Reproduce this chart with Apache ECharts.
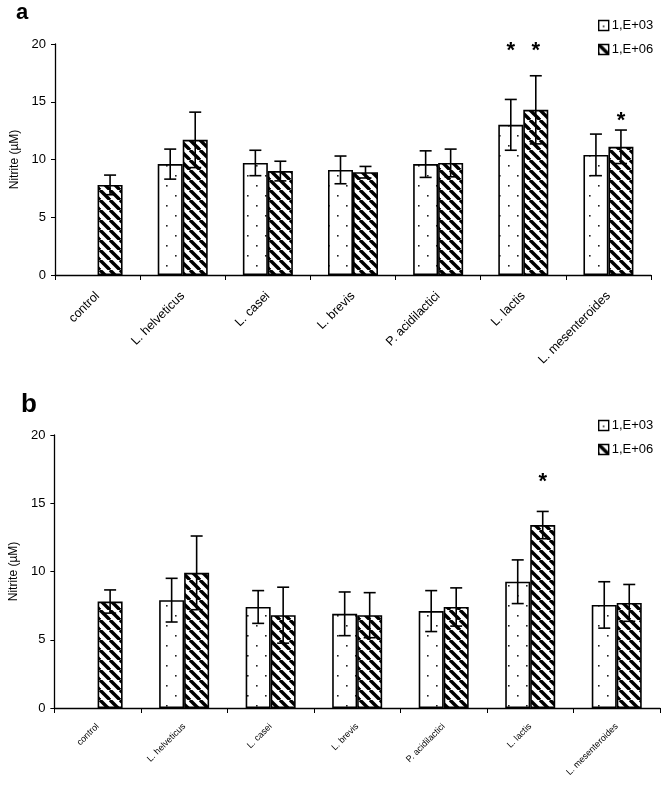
<!DOCTYPE html>
<html><head><meta charset="utf-8">
<script src="https://cdn.jsdelivr.net/npm/echarts@6/dist/echarts.min.js"></script>
<style>html,body{margin:0;padding:0;background:#fff}#c{width:661px;height:785px}</style>
</head><body><div id="c"></div>
<script>
const categories = ['control','L. helveticus','L. casei','L. brevis','P. acidilactici','L. lactis','L. mesenteroides'];
const seriesNames = ['1,E+03','1,E+06'];
// panel a
const aE3 = [null, 9.6, 9.7, 9.1, 9.6, 13.0, 10.4];
const aE3err = [null, 1.3, 1.1, 1.2, 1.15, 2.2, 1.8];
const aE6 = [7.8, 11.7, 9.0, 8.9, 9.7, 14.3, 11.1];
const aE6err = [0.85, 2.4, 0.85, 0.5, 1.2, 2.95, 1.45];
const aStars = [[5, 0, 19.8], [5, 1, 19.8], [6, 1, 13.8]];
// panel b
const bE3 = [null, 7.9, 7.4, 6.9, 7.1, 9.25, 7.55];
const bE3err = [null, 1.6, 1.2, 1.6, 1.5, 1.6, 1.7];
const bE6 = [7.8, 9.9, 6.8, 6.8, 7.4, 13.4, 7.7];
const bE6err = [0.85, 2.7, 2.05, 1.65, 1.4, 1.0, 1.35];
const bStars = [[5, 1, 16.9]];
const yMin = 0, yMax = 20, yInterval = 5;

const FONT = 'Liberation Sans, Arial, sans-serif';
const BW = 25;

function hatchPattern() {
  const c = document.createElement('canvas'); c.width = c.height = 10;
  const g = c.getContext('2d');
  g.fillStyle = '#fff'; g.fillRect(0, 0, 10, 10);
  g.strokeStyle = '#000'; g.lineWidth = 3.4;
  for (const k of [-10, 0, 10]) { g.beginPath(); g.moveTo(k, 0); g.lineTo(k + 10, 10); g.stroke(); }
  return c;
}
function dotPattern() {
  const c = document.createElement('canvas'); c.width = 18; c.height = 20;
  const g = c.getContext('2d');
  g.fillStyle = '#fff'; g.fillRect(0, 0, 18, 20);
  g.fillStyle = '#222';
  g.fillRect(4, 5, 1.6, 1.6); g.fillRect(13, 15, 1.6, 1.6);
  return c;
}
const dotFill = { image: dotPattern(), repeat: 'repeat' };
const hatchFill = { image: hatchPattern(), repeat: 'repeat' };

function errData(vals, errs) {
  const out = [];
  vals.forEach((v, i) => { if (v != null) out.push([i, v, errs[i]]); });
  return out;
}
function errSeries(idx, vals, errs, side) {
  return {
    type: 'custom', xAxisIndex: idx, yAxisIndex: idx, silent: true, z: 5,
    data: errData(vals, errs),
    encode: { x: 0, y: 1 },
    renderItem: function (params, api) {
      const i = api.value(0), v = api.value(1), e = api.value(2);
      const x = api.coord([i, v])[0] + (side ? BW / 2 : -BW / 2);
      const yt = api.coord([i, v + e])[1];
      const yb = api.coord([i, v - e])[1];
      const st = { stroke: '#000', lineWidth: 1.6 };
      return { type: 'group', children: [
        { type: 'line', shape: { x1: x, y1: yt, x2: x, y2: yb }, style: st },
        { type: 'line', shape: { x1: x - 6, y1: yt, x2: x + 6, y2: yt }, style: st },
        { type: 'line', shape: { x1: x - 6, y1: yb, x2: x + 6, y2: yb }, style: st }
      ]};
    }
  };
}
function starSeries(idx, stars) {
  return {
    type: 'custom', xAxisIndex: idx, yAxisIndex: idx, silent: true, z: 6,
    data: stars, encode: { x: 0, y: 2 },
    renderItem: function (params, api) {
      const i = api.value(0), side = api.value(1), y = api.value(2);
      const p = api.coord([i, y]);
      return { type: 'text', x: p[0] + (side ? BW / 2 : -BW / 2), y: p[1] + 5,
        style: { text: '*', fontSize: 22, fontWeight: 'bold', fontFamily: FONT, fill: '#000', align: 'center', verticalAlign: 'middle' } };
    }
  };
}
function barSeries(idx, name, vals, fill) {
  return {
    type: 'bar', name: name, xAxisIndex: idx, yAxisIndex: idx,
    data: vals.map(v => v == null ? '-' : v), barWidth: BW, barGap: '0%',
    itemStyle: { color: fill, borderColor: '#000', borderWidth: 1.6 },
    emphasis: { disabled: true }
  };
}
function xAxis(idx, fs, margin) {
  return {
    type: 'category', gridIndex: idx, data: categories,
    axisLine: { lineStyle: { color: '#000', width: 1.3 } },
    axisTick: { show: true, length: 5, lineStyle: { color: '#000' } },
    axisLabel: { rotate: 45, fontSize: fs, color: '#000', fontFamily: FONT, margin: margin, interval: 0 }
  };
}
function yAxis(idx, gap) {
  return {
    type: 'value', gridIndex: idx, min: yMin, max: yMax, interval: yInterval,
    name: 'Nitrite (µM)', nameLocation: 'middle', nameRotate: 90, nameGap: gap,
    nameTextStyle: { fontSize: 12, color: '#000', fontFamily: FONT },
    splitLine: { show: false },
    axisLine: { show: true, lineStyle: { color: '#000', width: 1.3 } },
    axisTick: { show: true, length: 4, lineStyle: { color: '#000' } },
    axisLabel: { fontSize: 13, color: '#000', fontFamily: FONT, margin: 9 }
  };
}
function legend(top) {
  return {
    orient: 'vertical', left: 598, top: top, padding: 0, itemGap: 11,
    itemWidth: 10, itemHeight: 10, icon: 'rect', data: seriesNames,
    itemStyle: { borderColor: '#000', borderWidth: 1.4 },
    textStyle: { fontSize: 13, color: '#000', fontFamily: FONT, padding: [0, 0, 0, -2] },
    selectedMode: false
  };
}

const chart = echarts.init(document.getElementById('c'), null, { renderer: 'canvas' });
chart.setOption({
  animation: false,
  backgroundColor: '#fff',
  title: [
    { text: 'a', left: 11, top: -3, textStyle: { fontSize: 22, fontWeight: 'bold', color: '#000', fontFamily: FONT } },
    { text: 'b', left: 16, top: 387, textStyle: { fontSize: 26, fontWeight: 'bold', color: '#000', fontFamily: FONT } }
  ],
  legend: [legend(19), legend(419)],
  grid: [
    { left: 55, top: 44, width: 596, height: 231 },
    { left: 53, top: 435, width: 607, height: 273 }
  ],
  xAxis: [xAxis(0, 12.5, 19), xAxis(1, 9, 17)],
  yAxis: [yAxis(0, 34), yAxis(1, 30)],
  series: [
    barSeries(0, seriesNames[0], aE3, dotFill),
    barSeries(0, seriesNames[1], aE6, hatchFill),
    errSeries(0, aE3, aE3err, 0),
    errSeries(0, aE6, aE6err, 1),
    starSeries(0, aStars),
    barSeries(1, seriesNames[0], bE3, dotFill),
    barSeries(1, seriesNames[1], bE6, hatchFill),
    errSeries(1, bE3, bE3err, 0),
    errSeries(1, bE6, bE6err, 1),
    starSeries(1, bStars)
  ]
});
</script></body></html>
